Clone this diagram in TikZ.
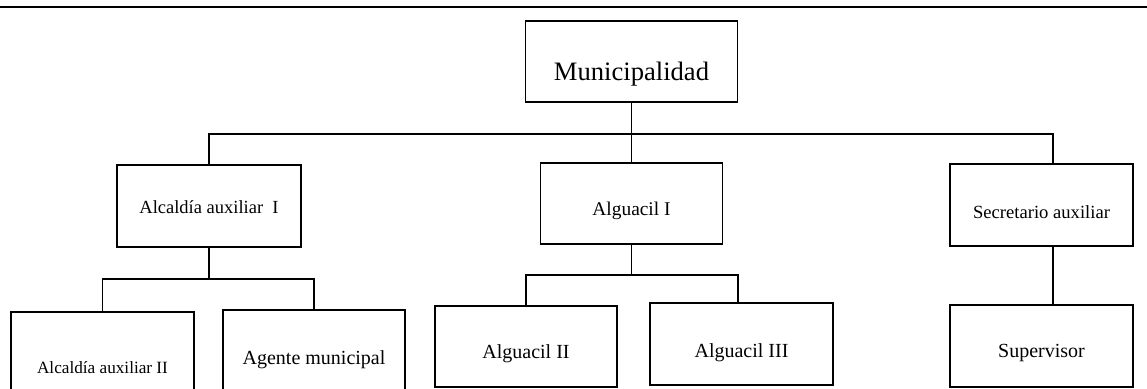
\documentclass[tikz,border=0pt]{standalone}
\usepackage{fontspec}
\setmainfont{Liberation Serif}
\usepackage{tikz}

\begin{document}
\begin{tikzpicture}[
    x=1pt, y=-1pt,
    unit/.style={draw,line width=1.8pt,minimum width=183pt,minimum height=82pt,
        inner sep=0pt,outer sep=0pt,text depth=0pt,font=\fontsize{20}{24}\selectfont},
    link/.style={line width=1.1pt}
]
\useasboundingbox (0,0) rectangle (1147,388);
% rule at the top
\draw[line width=2.6pt] (0,7) -- (1147,7);

% top level
\node[unit,minimum width=212pt,minimum height=81pt,text height=37pt,font=\fontsize{26.6}{30}\selectfont] (muni) at (631.5,61.5) {Municipalidad};

% second level
\node[unit,minimum width=184pt,text height=14pt,font=\fontsize{18.5}{22}\selectfont] (alc1) at (209,206) {Alcaldía auxiliar~~I};
\node[unit,minimum width=182pt,minimum height=81pt,text height=23pt,font=\fontsize{19.4}{23}\selectfont] (alg1) at (631.5,203.5) {Alguacil I};
\node[unit,text height=26pt,font=\fontsize{18.6}{22}\selectfont] (sec) at (1041.5,205) {Secretario auxiliar};

% third level
\node[unit,text height=40pt,font=\fontsize{17.2}{21}\selectfont] (alc2) at (102.5,353) {Alcaldía auxiliar II};
\node[unit,minimum width=182pt,text height=26pt] (agente) at (314,351) {Agente municipal};
\node[unit,minimum width=182pt,minimum height=81pt,text height=23pt] (alg2) at (526,346.5) {Alguacil II};
\node[unit,text height=26pt] (alg3) at (741.5,344) {Alguacil III};
\node[unit,text height=22pt] (sup) at (1041.5,346) {Supervisor};

% connectors
\coordinate (bus) at (631.5,134);
\draw[link] (muni.south) -- (alg1.north);
\draw[link] (alc1.north) |- (bus) -| ([xshift=11.5pt]sec.north);

\draw[link] (alc1.south) -- ++(0,32) coordinate (alcbus);
\draw[link] (alc2.north) |- (alcbus) -| (agente.north);

\draw[link] (alg1.south) -- ++(0,31) coordinate (algbus);
\draw[link] (alg2.north) |- (algbus) -| ([xshift=-3.5pt]alg3.north);

\draw[link] ([xshift=11.5pt]sec.south) -- ([xshift=11.5pt]sup.north);
\end{tikzpicture}
\end{document}
